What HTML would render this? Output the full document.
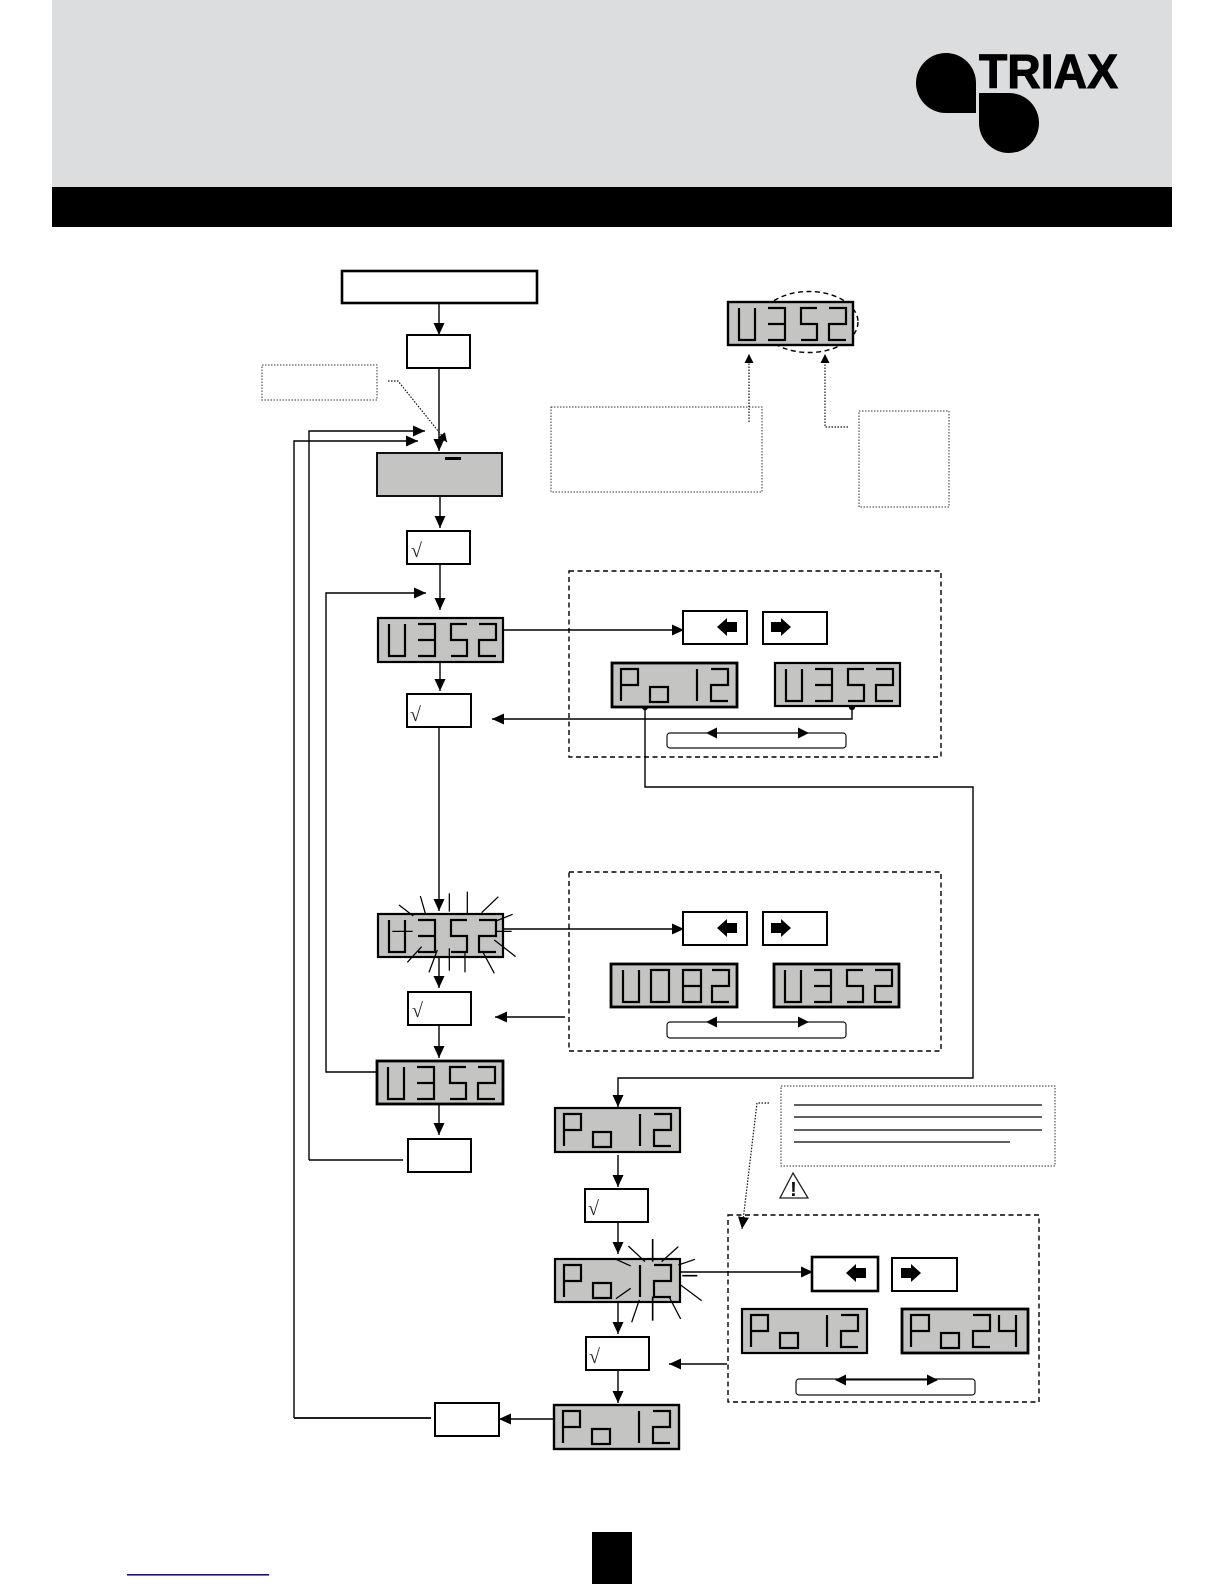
<!DOCTYPE html>
<html><head><meta charset="utf-8"><title>Diagram</title>
<style>html,body{margin:0;padding:0;background:#fff;width:1224px;height:1584px;overflow:hidden}svg{display:block}</style>
</head><body>
<svg xmlns="http://www.w3.org/2000/svg" width="1224" height="1584" viewBox="0 0 1224 1584">
<defs>
<marker id="a" markerUnits="userSpaceOnUse" markerWidth="14" markerHeight="14" refX="12" refY="6" orient="auto"><path d="M0 0.5L12 6L0 11.5Z" fill="#000"/></marker>
<marker id="s" markerUnits="userSpaceOnUse" markerWidth="10" markerHeight="10" refX="9" refY="4.5" orient="auto"><path d="M0 0L9 4.5L0 9Z" fill="#000"/></marker>
</defs>
<!-- header -->
<rect x="52" y="0" width="1120" height="187" fill="#dcddde"/>
<rect x="52" y="187" width="1120" height="40" fill="#000"/>
<path d="M946 53A30 30 0 0 1 976 83V113H946A30 30 0 0 1 946 53Z" fill="#000"/>
<path d="M979 93H1009A30 30 0 0 1 1009 153A30 30 0 0 1 979 123Z" fill="#000"/>
<text x="979" y="88" font-family="'Liberation Sans',sans-serif" font-weight="700" font-size="48" textLength="139" lengthAdjust="spacingAndGlyphs" fill="#000" stroke="#000" stroke-width="1">TRIAX</text>
<!-- footer -->
<rect x="592" y="1532" width="40" height="52" fill="#000"/>
<rect x="127" y="1574" width="142" height="1.6" fill="#14147a"/>

<!-- connectors -->
<g fill="none" stroke="#000" stroke-width="1.4">
<path d="M439 303V335" marker-end="url(#a)"/>
<path d="M439 368V451" marker-end="url(#a)"/>
<path d="M309 1160V431H425" marker-end="url(#a)"/>
<path d="M309 1160H403"/>
<path d="M294 1418V441H418" marker-end="url(#a)"/>
<path d="M294 1418H431" stroke-width="1.8"/>
<path d="M440 496V528" marker-end="url(#a)"/>
<path d="M440 564V610" marker-end="url(#a)"/>
<path d="M377 1072H326V593H426" marker-end="url(#a)"/>
<path d="M440 662V691" marker-end="url(#a)"/>
<path d="M439 727V911" marker-end="url(#a)"/>
<path d="M503 630H684" marker-end="url(#a)"/>
<path d="M852 707V719H492" marker-end="url(#a)"/>
<path d="M645 707V787H973V1078H618V1107" marker-end="url(#a)"/>
<path d="M439 957V988" marker-end="url(#a)"/>
<path d="M439 1025V1058" marker-end="url(#a)"/>
<path d="M439 1104V1135" marker-end="url(#a)"/>
<path d="M503 929H684" marker-end="url(#a)"/>
<path d="M565 1017H495" marker-end="url(#a)"/>
<path d="M618 1155V1187" marker-end="url(#a)"/>
<path d="M618 1222V1254" marker-end="url(#a)"/>
<path d="M618 1302V1334" marker-end="url(#a)"/>
<path d="M618 1370V1403" marker-end="url(#a)"/>
<path d="M680 1272H813" marker-end="url(#a)"/>
<path d="M727 1364H669" marker-end="url(#a)"/>
<path d="M553 1419H499" marker-end="url(#a)"/>
</g>
<circle cx="645" cy="707" r="3.2" fill="#000"/>
<circle cx="852" cy="707" r="3.2" fill="#000"/>

<!-- dotted boxes and leaders -->
<g fill="none" stroke="#333" stroke-width="1" stroke-dasharray="1.5 1.5">
<rect x="262" y="365" width="115" height="35"/>
<rect x="551" y="407" width="211" height="85"/>
<rect x="859" y="411" width="90" height="96"/>
<rect x="781" y="1086" width="274" height="80"/>
</g>
<g fill="none" stroke="#111" stroke-width="1.2">
<path d="M388 381H398L447 442" stroke-dasharray="1.5 1.5" marker-end="url(#s)"/>
<path d="M769 1103H757L742 1229" stroke-dasharray="1.5 1.5" marker-end="url(#a)"/>
<path d="M749 422V354" stroke-dasharray="1.5 1.5" marker-end="url(#s)"/>
<path d="M848 427H825V354" stroke-dasharray="1.5 1.5" marker-end="url(#s)"/>
</g>

<!-- dashed groups -->
<g fill="none" stroke="#000" stroke-width="1.4" stroke-dasharray="5 3.5">
<rect x="569" y="571" width="372" height="186"/>
<rect x="569" y="872" width="372" height="179"/>
<rect x="728" y="1215" width="311" height="187"/>
<ellipse cx="809" cy="322" rx="49" ry="30.5"/>
</g>

<!-- white boxes -->
<g fill="#fff" stroke="#000" stroke-width="2">
<rect x="342" y="271" width="195" height="32" stroke-width="2.6"/>
<rect x="407" y="335" width="63" height="33"/>
<rect x="407" y="531" width="63" height="33"/>
<rect x="407" y="694" width="64" height="33"/>
<rect x="408" y="992" width="63" height="33"/>
<rect x="408" y="1139" width="63" height="33"/>
<rect x="585" y="1189" width="63" height="33"/>
<rect x="586" y="1337" width="63" height="33"/>
<rect x="435" y="1403" width="64" height="33"/>
<rect x="683" y="611" width="64" height="33"/>
<rect x="763" y="612" width="64" height="32"/>
<rect x="683" y="912" width="64" height="33"/>
<rect x="763" y="912" width="64" height="33"/>
<rect x="812" y="1257" width="66" height="34" stroke-width="2.6"/>
<rect x="892" y="1258" width="65" height="33"/>
</g>
<g font-family="'Liberation Serif',serif" font-size="20" fill="#222">
<text x="411" y="557">√</text>
<text x="410" y="721">√</text>
<text x="412" y="1017">√</text>
<text x="588" y="1215">√</text>
<text x="589" y="1363">√</text>
</g>

<!-- direction glyphs -->
<g fill="#000">
<path d="M717 627L727 618V622H737V632H727V636Z"/>
<path d="M791 627L781 618V622H771V632H781V636Z"/>
<path d="M717 928L727 919V923H737V933H727V937Z"/>
<path d="M791 928L781 919V923H771V933H781V937Z"/>
<path d="M846 1273L856 1264V1268H866V1278H856V1282Z"/>
<path d="M921 1273L911 1264V1268H901V1278H911V1282Z"/>
</g>

<!-- rounded bars -->
<g fill="#fff" stroke="#111" stroke-width="1.2">
<rect x="667" y="733" width="179" height="15" rx="3"/>
<rect x="667" y="1022" width="179" height="16" rx="3"/>
<rect x="796" y="1379" width="179" height="16" rx="3"/>
</g>
<g fill="#000">
<path d="M706 733L717 727.5V738.5Z"/><path d="M809 733L798 727.5V738.5Z"/>
<path d="M706 1022L717 1016.5V1027.5Z"/><path d="M809 1022L798 1016.5V1027.5Z"/>
<path d="M835 1380L846 1374.5V1385.5Z"/><path d="M938 1380L927 1374.5V1385.5Z"/>
</g>
<path d="M707 733H808M707 1022H808M836 1380H937" stroke="#000" stroke-width="1.1" fill="none"/>

<!-- LCD: blank -->
<rect x="377" y="453" width="125" height="43" fill="#c4c4c2" stroke="#111" stroke-width="2"/>
<rect x="445" y="457" width="16" height="3" fill="#000"/>

<!-- LCDs -->
<g stroke="#000" stroke-width="2.2" fill="none">
<g transform="translate(728,302)"><rect width="125" height="43" fill="#c4c4c2" stroke-width="2.4"/><path d="M11 6V38H27V6M40 6H57V38H40M40 22H57M89 6H73V22H89V38H73M101 6H118V22H101V38H118"/></g>
<g transform="translate(378,618)"><rect width="125" height="44" fill="#c4c4c2" stroke-width="2.2"/><path d="M11 6V38H27V6M40 6H57V38H40M40 22H57M89 6H73V22H89V38H73M101 6H118V22H101V38H118"/></g>
<g transform="translate(612,663)"><rect width="125" height="44" fill="#c4c4c2" stroke-width="2.8"/><path d="M9 38V6H26V22H9M38 24H56V39H38ZM85 6V38M99 6H116V22H99V38H116"/></g>
<g transform="translate(775,663)"><rect width="125" height="43" fill="#c4c4c2" stroke-width="2.2"/><path d="M11 6V38H27V6M40 6H57V38H40M40 22H57M73 38H89V22H73V6H89M101 6H118V22H101V38H118"/></g>
<g transform="translate(378,914)"><rect width="125" height="43" fill="#c4c4c2" stroke-width="2.2"/><path d="M11 6V38H27V6M40 6H57V38H40M40 22H57M89 6H73V22H89V38H73M101 6H118V22H101V38H118"/></g>
<g transform="translate(611,964)"><rect width="126" height="43" fill="#c4c4c2" stroke-width="2.8"/><path d="M12 6V38H28V6M40 6H58V38H40ZM72 6H90V38H72ZM72 22H90M101 6H118V22H101V38H118"/></g>
<g transform="translate(774,964)"><rect width="125" height="43" fill="#c4c4c2" stroke-width="2.8"/><path d="M11 6V38H27V6M40 6H57V38H40M40 22H57M89 6H73V22H89V38H73M101 6H118V22H101V38H118"/></g>
<g transform="translate(377,1061)"><rect width="126" height="43" fill="#c4c4c2" stroke-width="2.8"/><path d="M11 6V38H27V6M40 6H57V38H40M40 22H57M89 6H73V22H89V38H73M101 6H118V22H101V38H118"/></g>
<g transform="translate(555,1108)"><rect width="125" height="44" fill="#c4c4c2" stroke-width="2.2"/><path d="M9 38V6H26V22H9M38 24H56V39H38ZM85 6V38M99 6H116V22H99V38H116"/></g>
<g transform="translate(555,1259)"><rect width="125" height="43" fill="#c4c4c2" stroke-width="2.2"/><path d="M9 38V6H26V22H9M38 24H56V39H38ZM85 6V38M99 6H116V22H99V38H116"/></g>
<g transform="translate(742,1309)"><rect width="125" height="44" fill="#c4c4c2" stroke-width="2.2"/><path d="M9 38V6H26V22H9M38 24H56V39H38ZM85 6V38M99 6H116V22H99V38H116"/></g>
<g transform="translate(902,1309)"><rect width="126" height="44" fill="#c4c4c2" stroke-width="2.8"/><path d="M9 38V6H27V22H9M39 24H57V39H39ZM71 6H88V22H71V38H88M97 6V22H114M114 6V38"/></g>
<g transform="translate(554,1405)"><rect width="125" height="44" fill="#c4c4c2" stroke-width="2.4"/><path d="M9 38V6H26V22H9M38 24H56V39H38ZM85 6V38M99 6H116V22H99V38H116"/></g>
</g>

<!-- flash rays U352 -->
<g stroke="#000" fill="none" transform="translate(360,870) scale(0.3333)">
<path stroke-width="3.8" d="M117 105L160 138M181 78L196 130M268 70V125M322 65V130M415 80L365 128M458 133L408 153M455 184H408M467 260L403 210M403 310L367 243M315 307V243M268 302V235M207 307L232 240M142 277L185 230M97 184H158"/>
</g>
<!-- flash rays Po12 -->
<g stroke="#000" fill="none" transform="translate(540,1070) scale(0.3333)">
<path stroke-width="3.8" d="M265 528L315 575M415 530L365 575M465 568L415 585M485 692L422 645M422 747L387 680M298 690L275 757M272 655L228 686M272 588L228 568"/>
<path stroke-width="5" d="M338 507V575M472 617H427M338 680V752"/>
</g>

<!-- note lines -->
<path d="M794 1105H1042M794 1117H1042M794 1130H1042M794 1142H1010" stroke="#000" stroke-width="1.3" fill="none"/>

<!-- warning -->
<path d="M793 1173L780 1198H808Z" fill="#fff" stroke="#222" stroke-width="1.3"/>
<text x="793.5" y="1196" text-anchor="middle" font-family="'Liberation Sans',sans-serif" font-weight="700" font-size="20" fill="#111">!</text>
</svg>
</body></html>
